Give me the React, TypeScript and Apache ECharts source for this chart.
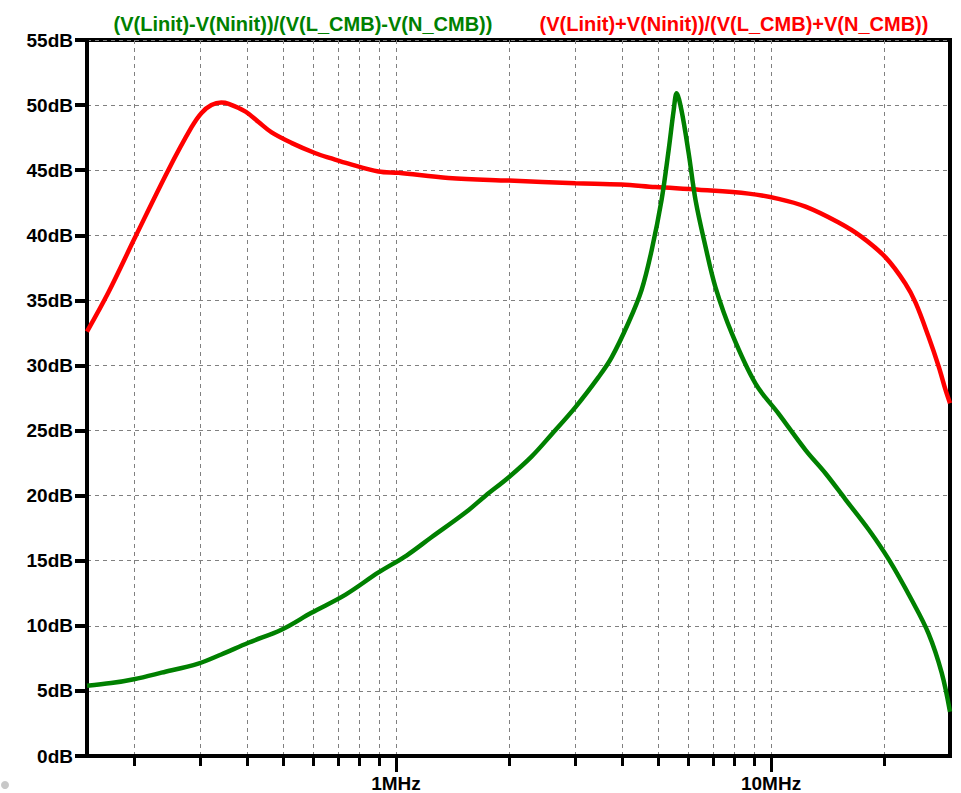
import React, { useEffect, useRef } from "react";
import * as echarts from "echarts";

// Frequency axis (Hz) and tick positions
const F_MIN = 150000;
const F_MAX = 30000000;
const GRID_FREQS = [
  2e5, 3e5, 4e5, 5e5, 6e5, 7e5, 8e5, 9e5, 1e6,
  2e6, 3e6, 4e6, 5e6, 6e6, 7e6, 8e6, 9e6, 1e7, 2e7,
];
const LABEL_FREQS = [1e6, 1e7];
const LABEL_TEXTS = ["1MHz", "10MHz"];

// Y axis (dB)
const Y_MIN = 0;
const Y_MAX = 55;
const Y_STEP = 5;

const TITLE_DIFF = "(V(Linit)-V(Ninit))/(V(L_CMB)-V(N_CMB))";
const TITLE_SUM = "(V(Linit)+V(Ninit))/(V(L_CMB)+V(N_CMB))";

// Red curve: (V(Linit)+V(Ninit))/(V(L_CMB)+V(N_CMB))
const SUM_FREQ = [
  150000, 171000, 202000, 247000, 285000, 303000, 322000, 342000, 358000, 397000,
  430000, 466000, 526000, 610000, 673000, 747000, 898000, 1015000, 1380000, 2000000,
  3010000, 3990000, 4920000, 6410000, 8710000, 10470000, 12360000, 15100000, 17400000, 20200000,
  22800000, 24300000, 26300000, 28000000, 29200000, 30000000,
];
const SUM_DB = [
  32.6, 35.6, 39.9, 45.0, 48.3, 49.4, 50.0, 50.2, 50.1, 49.5,
  48.7, 47.9, 47.1, 46.3, 45.9, 45.5, 44.9, 44.8, 44.4, 44.2,
  44.0, 43.9, 43.7, 43.5, 43.2, 42.8, 42.2, 41.0, 39.9, 38.3,
  36.3, 34.8, 32.2, 29.9, 28.1, 27.1,
];

// Green curve: (V(Linit)-V(Ninit))/(V(L_CMB)-V(N_CMB))
const DIFF_FREQ = [
  150000, 174000, 200000, 237000, 297000, 342000, 404000, 495000, 595000, 734000,
  898000, 1067000, 1243000, 1532000, 1733000, 1995000, 2298000, 2598000, 3010000, 3467000,
  3755000, 4169000, 4516000, 4800000, 5105000, 5330000, 5500000, 5600000, 5770000, 6030000,
  6290000, 6690000, 7110000, 7850000, 9090000, 10470000, 12360000, 13980000, 15800000, 18200000,
  20600000, 23700000, 26300000, 28500000, 30000000,
];
const DIFF_DB = [
  5.4, 5.6, 5.9, 6.4, 7.1, 7.8, 8.7, 9.7, 11.0, 12.4,
  14.1, 15.4, 16.8, 18.7, 20.0, 21.4, 23.0, 24.7, 26.8, 29.1,
  30.6, 33.3, 35.8, 38.8, 42.7, 46.5, 49.6, 50.9, 49.6, 46.3,
  42.7, 39.1, 36.0, 32.5, 28.6, 26.3, 23.5, 21.7, 19.7, 17.4,
  15.1, 12.0, 9.4, 6.4, 3.4,
];

const FONT = "'Liberation Sans', Arial, sans-serif";
const lg = (v: number) => Math.log10(v);

export default function App() {
  const ref = useRef<HTMLDivElement>(null);

  useEffect(() => {
    document.body.style.margin = "0";
    if (!ref.current) return;
    const chart = echarts.init(ref.current, null, { renderer: "svg" });

    const xMin = lg(F_MIN);
    const xMax = lg(F_MAX);

    const option: any = {
      animation: false,
      backgroundColor: "#ffffff",
      grid: {
        left: 87,
        right: 11,
        top: 40,
        bottom: 37,
        show: true,
        borderColor: "#000",
        borderWidth: 4,
        backgroundColor: "transparent",
      },
      xAxis: [
        {
          type: "value",
          position: "bottom",
          min: xMin,
          max: xMax,
          axisLine: { show: true, onZero: false, lineStyle: { color: "#000", width: 4 } },
          axisTick: {
            show: true,
            length: 10,
            customValues: GRID_FREQS.map(lg),
            lineStyle: { color: "#000", width: 3 },
          },
          axisLabel: { show: false },
          splitLine: {
            show: true,
            lineStyle: { color: "#808080", width: 1, type: [4, 4] },
          },
        },
        {
          type: "value",
          position: "bottom",
          min: xMin,
          max: xMax,
          axisLine: { show: false, onZero: false },
          axisTick: {
            show: true,
            length: 16,
            customValues: LABEL_FREQS.map(lg),
            lineStyle: { color: "#000", width: 3 },
          },
          axisLabel: {
            show: true,
            customValues: LABEL_FREQS.map(lg),
            margin: 18,
            color: "#000",
            fontFamily: FONT,
            fontSize: 19,
            fontWeight: "bold",
            formatter: (v: number) => {
              const i = LABEL_FREQS.findIndex((f) => Math.abs(lg(f) - v) < 1e-6);
              return i >= 0 ? LABEL_TEXTS[i] : "";
            },
          },
          splitLine: { show: false },
        },
      ],
      yAxis: {
        type: "value",
        min: Y_MIN,
        max: Y_MAX,
        interval: Y_STEP,
        axisLine: { show: true, onZero: false, lineStyle: { color: "#000", width: 4 } },
        axisTick: { show: true, length: 12, lineStyle: { color: "#000", width: 4 } },
        axisLabel: {
          margin: 14,
          color: "#000",
          fontFamily: FONT,
          fontSize: 19,
          fontWeight: "bold",
          formatter: (v: number) => `${v}dB`,
        },
        splitLine: {
          show: true,
          lineStyle: { color: "#808080", width: 1, type: [4, 4] },
        },
      },
      series: [
        {
          name: TITLE_SUM,
          type: "line",
          xAxisIndex: 0,
          showSymbol: false,
          smooth: 0.35,
          lineStyle: { color: "#ff0000", width: 4.5 },
          data: SUM_FREQ.map((f, i) => [lg(f), SUM_DB[i]]),
          z: 3,
        },
        {
          name: TITLE_DIFF,
          type: "line",
          xAxisIndex: 0,
          showSymbol: false,
          smooth: 0.35,
          lineStyle: { color: "#008000", width: 4.5 },
          data: DIFF_FREQ.map((f, i) => [lg(f), DIFF_DB[i]]),
          z: 4,
        },
      ],
      graphic: [
        {
          type: "text",
          x: 303,
          y: 24,
          style: {
            text: TITLE_DIFF,
            fill: "#008000",
            font: `bold 20px ${FONT}`,
            textAlign: "center",
            textVerticalAlign: "middle",
          },
        },
        {
          type: "text",
          x: 734,
          y: 24,
          style: {
            text: TITLE_SUM,
            fill: "#ff0000",
            font: `bold 20px ${FONT}`,
            textAlign: "center",
            textVerticalAlign: "middle",
          },
        },
        {
          type: "circle",
          shape: { cx: 5, cy: 785, r: 4 },
          style: { fill: "#c8c8c8" },
        },
      ],
    };

    chart.setOption(option);
    return () => chart.dispose();
  }, []);

  return <div ref={ref} style={{ width: 961, height: 793 }} />;
}
